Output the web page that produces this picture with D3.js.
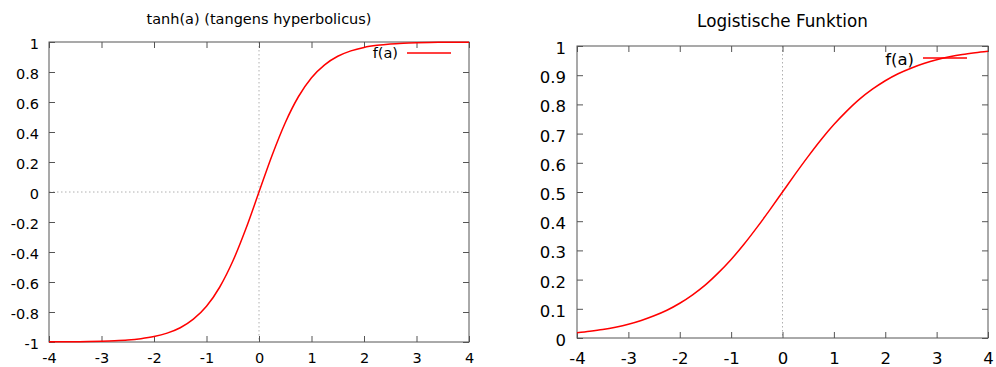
<!DOCTYPE html>
<html>
<head>
<meta charset="utf-8">
<script src="https://cdn.jsdelivr.net/npm/d3@7"></script>
<style>
  body { margin: 0; background: #fff; }
  svg text { font-family: "DejaVu Sans", sans-serif; fill: #000; }
</style>
</head>
<body>
<div id="chart"></div>
<script>
// sample points
var aValues = [-4, -3.75, -3.5, -3.25, -3, -2.75, -2.5, -2.25, -2, -1.75, -1.5, -1.25, -1, -0.75, -0.5, -0.25,
  0, 0.25, 0.5, 0.75, 1, 1.25, 1.5, 1.75, 2, 2.25, 2.5, 2.75, 3, 3.25, 3.5, 3.75, 4];
var tanhValues = [-0.999, -0.999, -0.998, -0.997, -0.995, -0.992, -0.987, -0.978, -0.964, -0.941, -0.905, -0.848, -0.762, -0.635, -0.462, -0.245,
  0, 0.245, 0.462, 0.635, 0.762, 0.848, 0.905, 0.941, 0.964, 0.978, 0.987, 0.992, 0.995, 0.997, 0.998, 0.999, 0.999];
var logisticValues = [0.018, 0.023, 0.029, 0.037, 0.047, 0.060, 0.076, 0.095, 0.119, 0.148, 0.182, 0.223, 0.269, 0.321, 0.378, 0.438,
  0.5, 0.562, 0.622, 0.679, 0.731, 0.777, 0.818, 0.852, 0.881, 0.905, 0.924, 0.940, 0.953, 0.963, 0.971, 0.977, 0.982];

var xTicks = [-4, -3, -2, -1, 0, 1, 2, 3, 4];
var tanhTicks = [-1, -0.8, -0.6, -0.4, -0.2, 0, 0.2, 0.4, 0.6, 0.8, 1];
var logisticTicks = [0, 0.1, 0.2, 0.3, 0.4, 0.5, 0.6, 0.7, 0.8, 0.9, 1];

var titles = ["tanh(a) (tangens hyperbolicus)", "Logistische Funktion"];
var legendLabel = "f(a)";

var svg = d3.select('#chart').append('svg').attr('width', 996).attr('height', 367);

function drawPanel(box, yDomain, yTicks, values, title, opts) {
	var x = d3.scaleLinear().domain([-4, 4]).range([box.left, box.right]);
	var y = d3.scaleLinear().domain(yDomain).range([box.bottom, box.top]);
	var g = svg.append('g');
	var frame = '#555';

	// zero lines
	g.append('line')
		.attr('x1', x(0)).attr('x2', x(0)).attr('y1', box.top).attr('y2', box.bottom)
		.attr('stroke', '#b0b0b0').attr('stroke-dasharray', '1.5,2.5');
	if (yDomain[0] < 0) {
		g.append('line')
			.attr('x1', box.left).attr('x2', box.right).attr('y1', y(0)).attr('y2', y(0))
			.attr('stroke', '#b0b0b0').attr('stroke-dasharray', '1.5,2.5');
	}

	// axes with inward ticks on all four sides
	var fmt = function(d) { return String(+d.toFixed(1)); };
	var bottom = g.append('g').attr('transform', 'translate(0,' + box.bottom + ')')
		.call(d3.axisBottom(x).tickValues(xTicks).tickSizeInner(-6).tickSizeOuter(0).tickPadding(opts.xPad).tickFormat(fmt));
	var left = g.append('g').attr('transform', 'translate(' + box.left + ',0)')
		.call(d3.axisLeft(y).tickValues(yTicks).tickSizeInner(-6).tickSizeOuter(0).tickPadding(opts.yPad).tickFormat(fmt));
	var top = g.append('g').attr('transform', 'translate(0,' + box.top + ')')
		.call(d3.axisTop(x).tickValues(xTicks).tickSizeInner(-6).tickSizeOuter(0).tickFormat(''));
	var right = g.append('g').attr('transform', 'translate(' + box.right + ',0)')
		.call(d3.axisRight(y).tickValues(yTicks).tickSizeInner(-6).tickSizeOuter(0).tickFormat(''));
	[bottom, left, top, right].forEach(function(a) {
		a.select('.domain').remove();
		a.selectAll('line').attr('stroke', frame);
		a.selectAll('text').style('font-size', opts.fontSize + 'px').attr('fill', '#000');
	});
	left.selectAll('text').attr('dy', '0.45em');

	g.append('rect')
		.attr('x', box.left).attr('y', box.top)
		.attr('width', box.right - box.left).attr('height', box.bottom - box.top)
		.attr('fill', 'none').attr('stroke', frame).attr('stroke-width', 1);

	// curve
	var line = d3.line()
		.x(function(d, i) { return x(aValues[i]); })
		.y(function(d) { return y(d); })
		.curve(d3.curveMonotoneX);
	g.append('path').datum(values)
		.attr('d', line)
		.attr('fill', 'none').attr('stroke', '#ff0000').attr('stroke-width', 1.5);

	// title
	g.append('text')
		.attr('x', (box.left + box.right) / 2).attr('y', opts.titleY)
		.attr('text-anchor', 'middle').style('font-size', opts.titleSize + 'px')
		.text(title);

	// legend
	g.append('text')
		.attr('x', opts.legendX - 9).attr('y', opts.legendTextY)
		.attr('text-anchor', 'end').style('font-size', opts.fontSize + 'px')
		.text(legendLabel);
	g.append('line')
		.attr('x1', opts.legendX).attr('x2', opts.legendX + 44)
		.attr('y1', opts.legendY).attr('y2', opts.legendY)
		.attr('stroke', '#ff0000').attr('stroke-width', 1.5);
}

drawPanel({left: 49, right: 469, top: 42, bottom: 342}, [-1, 1], tanhTicks, tanhValues, titles[0],
	{titleY: 24, titleSize: 14.5, fontSize: 14.5, xPad: 11, yPad: 10, legendX: 407, legendY: 53, legendTextY: 58});
drawPanel({left: 577, right: 988, top: 46, bottom: 338}, [0, 1], logisticTicks, logisticValues, titles[1],
	{titleY: 27, titleSize: 16.8, fontSize: 16.5, xPad: 14, yPad: 11, legendX: 923, legendY: 58, legendTextY: 65});
</script>
</body>
</html>
